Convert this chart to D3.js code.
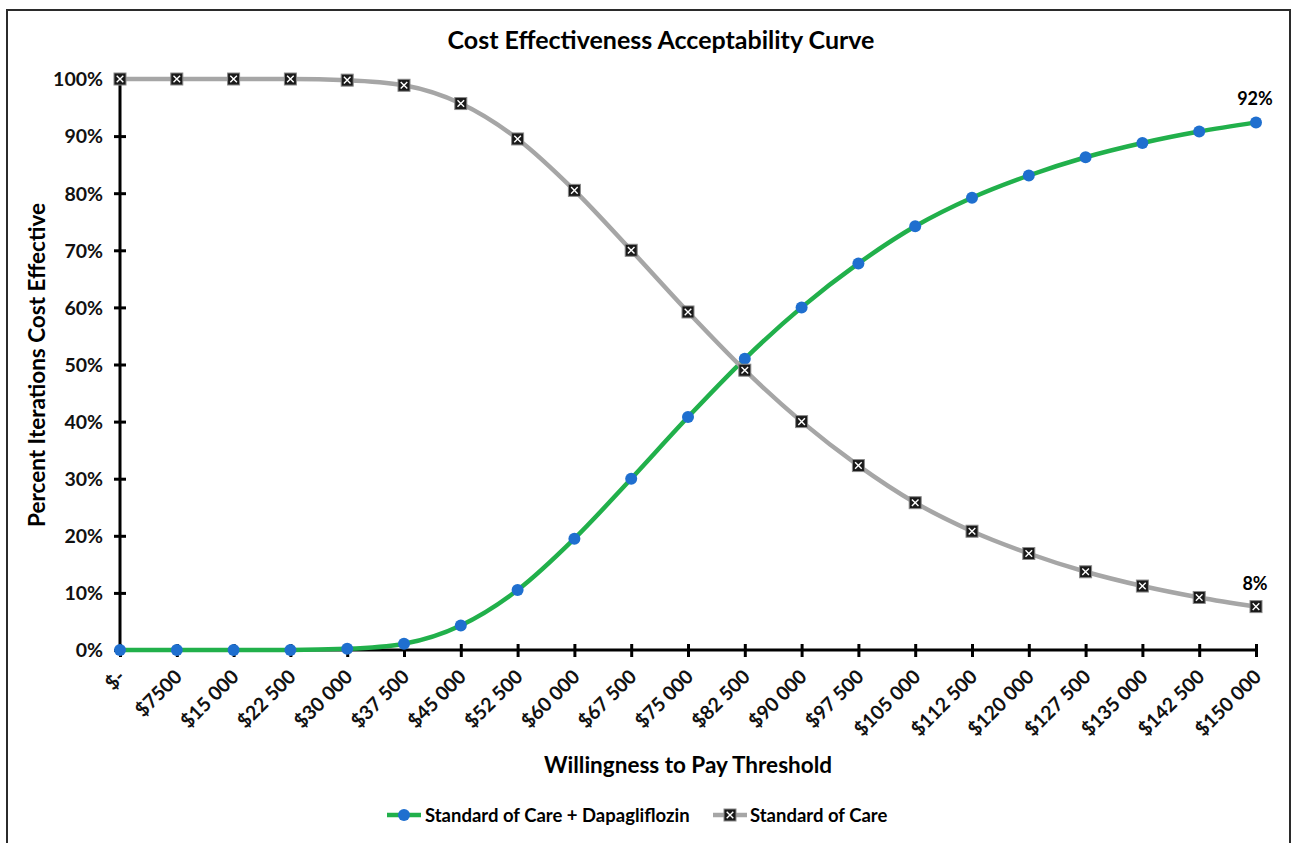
<!DOCTYPE html>
<html>
<head>
<meta charset="utf-8">
<script src="https://cdn.jsdelivr.net/npm/d3@7"></script>
<style>
  body { margin: 0; background: #fff; }
  svg { display: block; font-family: Lato, "Open Sans", sans-serif; font-weight: bold; }
</style>
</head>
<body>
<div id="chart"></div>
<script>
// willingness to pay thresholds
var thresholds = [0, 7500, 15000, 22500, 30000, 37500, 45000, 52500, 60000, 67500, 75000,
    82500, 90000, 97500, 105000, 112500, 120000, 127500, 135000, 142500, 150000];
var tickLabels = ["$-", "$7500", "$15 000", "$22 500", "$30 000", "$37 500", "$45 000", "$52 500",
    "$60 000", "$67 500", "$75 000", "$82 500", "$90 000", "$97 500", "$105 000", "$112 500",
    "$120 000", "$127 500", "$135 000", "$142 500", "$150 000"];
var dapaValues = [0, 0, 0, 0, 0.2, 1.1, 4.3, 10.5, 19.5, 30, 40.8, 51, 60, 67.7, 74.2, 79.2,
    83.1, 86.3, 88.8, 90.8, 92.4];
var socValues = [100, 100, 100, 100, 99.8, 98.9, 95.7, 89.5, 80.5, 70, 59.2, 49, 40, 32.3,
    25.8, 20.8, 16.9, 13.7, 11.2, 9.2, 7.6];
var seriesNames = ["Standard of Care + Dapagliflozin", "Standard of Care"];
var yTicks = [0, 10, 20, 30, 40, 50, 60, 70, 80, 90, 100];

var W = 1293, H = 843;
var svg = d3.select("#chart").append("svg")
    .attr("width", W).attr("height", H);

// outer frame
svg.append("rect")
    .attr("x", 7).attr("y", 10)
    .attr("width", 1283).attr("height", 850)
    .attr("fill", "none")
    .attr("stroke", "#2b2b2b")
    .attr("stroke-width", 2);

var x = d3.scaleLinear().domain([0, 150000]).range([120, 1256]);
var y = d3.scaleLinear().domain([0, 100]).range([650, 79]);

// title
svg.append("text")
    .attr("x", 661).attr("y", 49)
    .attr("text-anchor", "middle")
    .style("font-size", "25px")
    .text("Cost Effectiveness Acceptability Curve");

// Y axis
var yAxis = svg.append("g")
    .attr("transform", "translate(120,0)")
    .call(d3.axisLeft(y).tickValues(yTicks).tickSize(0).tickFormat(function (d) { return d + "%"; }));
yAxis.select(".domain").remove();
yAxis.selectAll("text")
    .attr("x", -17)
    .attr("dy", "0.35em")
    .style("font-size", "19.5px")
    .style("font-weight", "bold")
    .style("font-family", "Lato, sans-serif")
    .attr("fill", "#111");
yAxis.append("line")
    .attr("x1", 0).attr("x2", 0)
    .attr("y1", y(0)).attr("y2", y(100))
    .attr("stroke", "#000").attr("stroke-width", 3);
yAxis.selectAll(".tick").append("line")
    .attr("x1", -6).attr("x2", 6)
    .attr("stroke", "#000").attr("stroke-width", 3);

// X axis
var xAxis = svg.append("g")
    .attr("transform", "translate(0,650)")
    .call(d3.axisBottom(x).tickValues(thresholds).tickSize(0)
        .tickFormat(function (d, i) { return tickLabels[i]; }));
xAxis.select(".domain").remove();
xAxis.append("line")
    .attr("x1", x(0)).attr("x2", x(150000))
    .attr("stroke", "#000").attr("stroke-width", 3);
xAxis.selectAll(".tick").append("line")
    .attr("y1", -6).attr("y2", 7)
    .attr("stroke", "#000").attr("stroke-width", 3);
xAxis.selectAll(".tick text")
    .attr("y", 0).attr("dy", 0)
    .attr("transform", "translate(6,28) rotate(-45)")
    .style("text-anchor", "end")
    .style("font-size", "19.5px")
    .style("font-weight", "bold")
    .style("font-family", "Lato, sans-serif")
    .attr("fill", "#111");

// axis titles
svg.append("text")
    .attr("transform", "translate(45,365) rotate(-90)")
    .attr("text-anchor", "middle")
    .style("font-size", "22.5px")
    .text("Percent Iterations Cost Effective");
svg.append("text")
    .attr("x", 688).attr("y", 773)
    .attr("text-anchor", "middle")
    .style("font-size", "22.5px")
    .text("Willingness to Pay Threshold");

var line = d3.line()
    .x(function (d) { return x(d[0]); })
    .y(function (d) { return y(d[1]); })
    .curve(d3.curveMonotoneX);

var dapa = thresholds.map(function (t, i) { return [t, dapaValues[i]]; });
var soc = thresholds.map(function (t, i) { return [t, socValues[i]]; });

// green series
svg.append("path").datum(dapa)
    .attr("d", line)
    .attr("fill", "none")
    .attr("stroke", "#21b04b")
    .attr("stroke-width", 4.5);
svg.append("g").selectAll("circle")
    .data(dapa).enter().append("circle")
    .attr("cx", function (d) { return x(d[0]); })
    .attr("cy", function (d) { return y(d[1]); })
    .attr("r", 6)
    .attr("fill", "#1f6fcf");

// grey series
svg.append("path").datum(soc)
    .attr("d", line)
    .attr("fill", "none")
    .attr("stroke", "#a6a6a6")
    .attr("stroke-width", 4.5);

function boxMarker(g) {
    g.append("rect")
        .attr("x", -6).attr("y", -6)
        .attr("width", 12).attr("height", 12)
        .attr("fill", "#1a1a1a")
        .attr("stroke", "#8a8a8a").attr("stroke-width", 1);
    g.append("path")
        .attr("d", "M-3.3,-3.3L3.3,3.3M3.3,-3.3L-3.3,3.3")
        .attr("stroke", "#fff").attr("stroke-width", 1.4);
}
svg.append("g").selectAll("g")
    .data(soc).enter().append("g")
    .attr("transform", function (d) { return "translate(" + x(d[0]) + "," + y(d[1]) + ")"; })
    .each(function () { boxMarker(d3.select(this)); });

// end labels
svg.append("text")
    .attr("x", x(150000) - 1).attr("y", y(dapaValues[20]) - 17)
    .attr("text-anchor", "middle")
    .style("font-size", "18px")
    .text(Math.round(dapaValues[20]) + "%");
svg.append("text")
    .attr("x", x(150000) - 1).attr("y", y(socValues[20]) - 17)
    .attr("text-anchor", "middle")
    .style("font-size", "18px")
    .text(Math.round(socValues[20]) + "%");

// legend
var leg = svg.append("g").attr("transform", "translate(0,815)");
leg.append("line").attr("x1", 387).attr("x2", 421)
    .attr("stroke", "#21b04b").attr("stroke-width", 4.5);
leg.append("circle").attr("cx", 404).attr("cy", 0).attr("r", 6).attr("fill", "#1f6fcf");
leg.append("text").attr("x", 425).attr("y", 7)
    .style("font-size", "18.5px").text(seriesNames[0]);
leg.append("line").attr("x1", 713).attr("x2", 747)
    .attr("stroke", "#a6a6a6").attr("stroke-width", 4.5);
boxMarker(leg.append("g").attr("transform", "translate(730,0)"));
leg.append("text").attr("x", 750).attr("y", 7)
    .style("font-size", "18.5px").text(seriesNames[1]);
</script>
</body>
</html>
